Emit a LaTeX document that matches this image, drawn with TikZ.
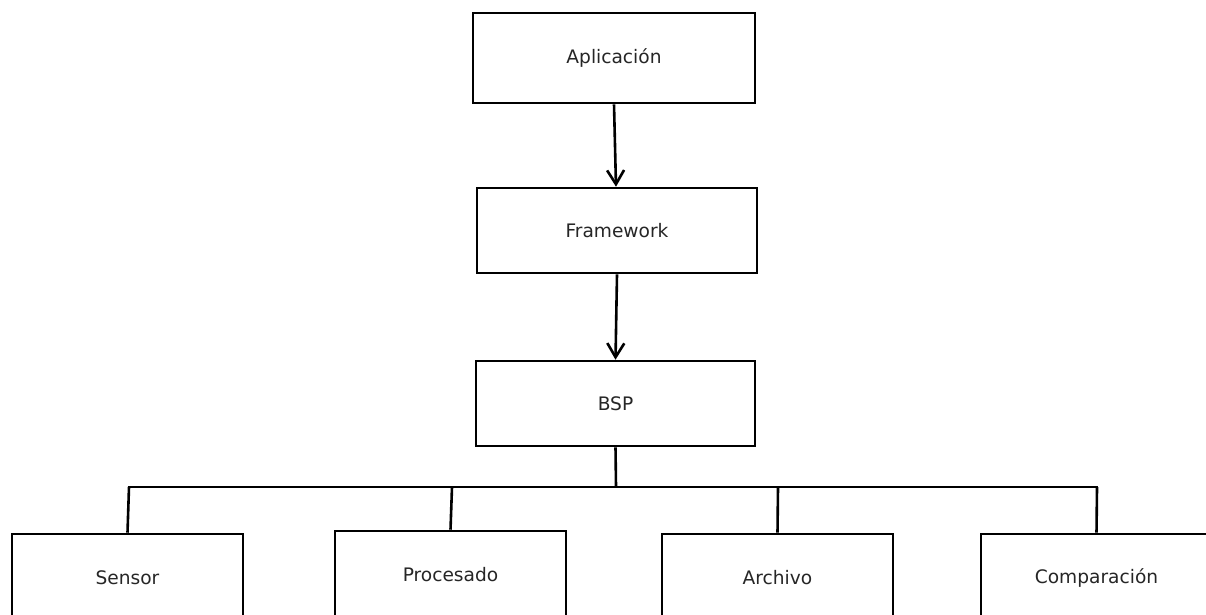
\documentclass[tikz,border=0pt]{standalone}
\usepackage{fontspec}
\setmainfont{DejaVu Sans}
\usetikzlibrary{arrows.meta}
\begin{document}
\begin{tikzpicture}[x=1pt,y=-1pt,
  box/.style={draw=black, line width=2.6pt, fill=white, inner sep=0pt,
    text=black!85, font=\fontsize{18.6}{22}\selectfont},
  link/.style={draw=black, line width=2.6pt},
  arr/.style={link, -{Straight Barb[length=14pt,width=17pt]}}]
\useasboundingbox (0,0) rectangle (1206,614);

% upper stack
\node[box, minimum width=282pt, minimum height=90pt] (app) at (614,58) {Aplicación};
\node[box, minimum width=280pt, minimum height=85pt] (fw)  at (617,230.5) {Framework};
\node[box, minimum width=279pt, minimum height=85pt] (bsp) at (615.5,403.5) {BSP};

\draw[arr] (app.south) -- ([xshift=-1pt]fw.north);
\draw[arr] (fw.south) -- (bsp.north);

% modules
\node[box, minimum width=231pt, minimum height=88pt] (sen)  at (127.5,578) {Sensor};
\node[box, minimum width=231pt, minimum height=88pt] (proc) at (450.5,575) {Procesado};
\node[box, minimum width=231pt, minimum height=88pt] (arch) at (777.5,578) {Archivo};
\node[box, minimum width=231pt, minimum height=88pt] (comp) at (1096.5,578) {Comparación};

% tree connecting BSP to the modules
\coordinate (bus)  at (616,487);
\coordinate (busL) at (129,487);
\coordinate (busP) at (452,487);
\coordinate (busA) at (778,487);
\coordinate (busR) at (1097,487);
\draw[link] (bsp.south) -- (bus);
\draw[link, line cap=rect] (busL) -- (busR);
\draw[link] (busL) -- (sen.north);
\draw[link] (busP) -- (proc.north);
\draw[link] (busA) -- (arch.north);
\draw[link] (busR) -- (comp.north);
\end{tikzpicture}
\end{document}
